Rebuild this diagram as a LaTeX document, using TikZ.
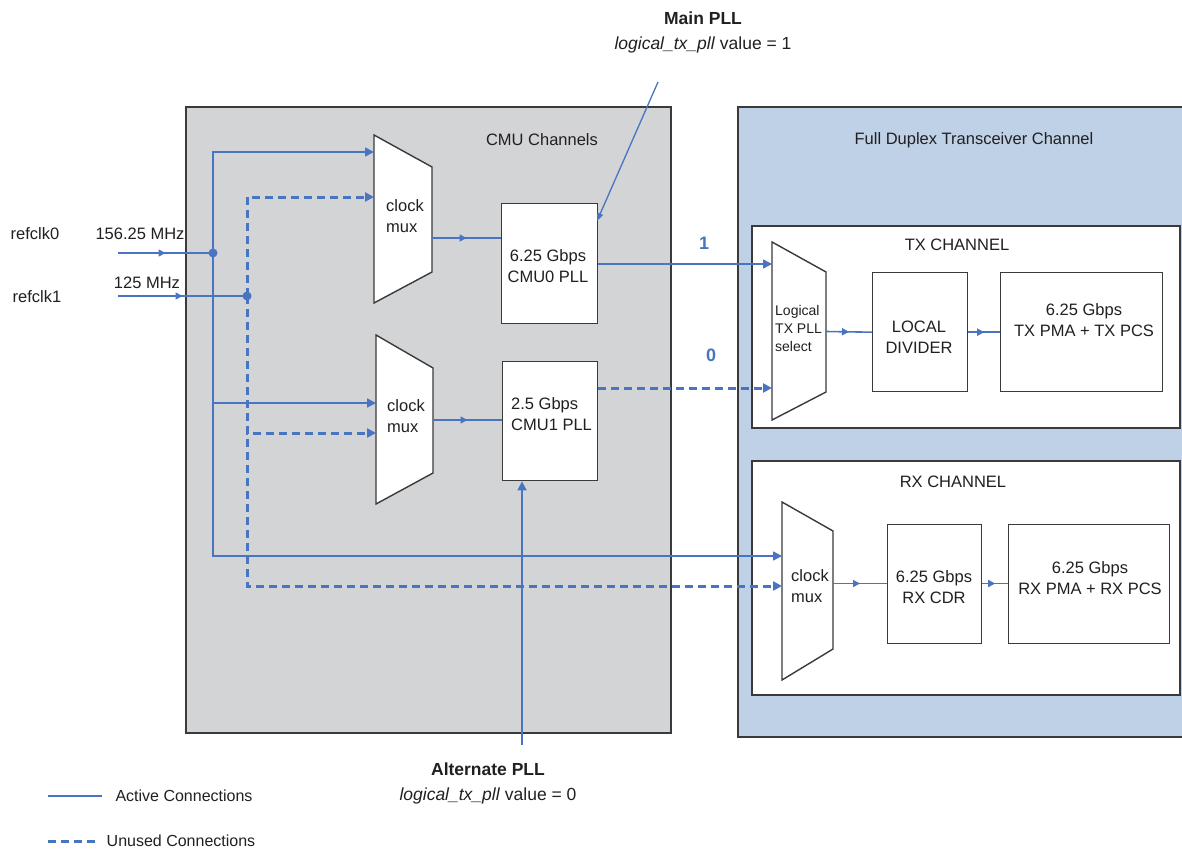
\documentclass[tikz,border=0pt]{standalone}
\usepackage{fontspec}
\setmainfont{Liberation Sans}
\usetikzlibrary{arrows.meta,decorations.markings,calc}
\definecolor{cmugray}{HTML}{D3D4D6}
\definecolor{fdblue}{HTML}{BFD1E6}
\definecolor{wire}{HTML}{4874C2}
\definecolor{txt}{HTML}{231F20}
\definecolor{edge}{HTML}{3A3A3A}
\begin{document}
\begin{tikzpicture}[x=1pt,y=-1pt,
  font=\fontsize{16.5}{21}\selectfont, text=txt,
  region/.style={draw=edge, line width=1.4pt},
  box/.style={draw=edge, line width=1.4pt, fill=white, inner sep=0pt, anchor=north west},
  muxshape/.style={draw=edge, line width=1.4pt, fill=white, line join=miter},
  wire/.style={draw=wire, line width=1.6pt},
  unused/.style={draw=wire, line width=3pt, dash pattern=on 8pt off 5pt},
  tip/.style={-{Triangle[length=9pt,width=9pt]}},
  midarrow/.style={postaction={decorate}, decoration={markings,
     mark=at position 0.5 with {\arrow{Triangle[length=7pt,width=7pt]}}}},
  lbl/.style={inner sep=0pt, align=center},
  lbll/.style={inner sep=0pt, align=left, anchor=west},
  note/.style={inner sep=0pt, align=center, font=\fontsize{17.5}{25}\selectfont},
]
\useasboundingbox (0,0) rectangle (1182,848);

% regions
\draw[region, fill=cmugray] (186,107) rectangle (671,733);
\draw[region, fill=fdblue] (738,107) rectangle (1186,737);
\node[lbl] (cmulbl) at (542,140) {CMU Channels};
\node[lbl] (fdlbl) at (974,140) {Full Duplex Transceiver Channel};

\draw[box] (752,226) rectangle (1180,428);
\draw[box] (752,461) rectangle (1180,695);
\node[lbl] (txlbl) at (957,245) {TX CHANNEL};
\node[lbl] (rxlbl) at (953,482) {RX CHANNEL};

% muxes
\draw[muxshape] (374,135) -- (432,167) -- (432,272) -- (374,303) -- cycle;
\node[lbll] (mux1) at (386,216) {clock\\mux};
\draw[muxshape] (376,335) -- (433,368) -- (433,473) -- (376,504) -- cycle;
\node[lbll] (mux2) at (387,416) {clock\\mux};
\draw[muxshape] (772,242) -- (826,272) -- (826,392) -- (772,420) -- cycle;
\node[lbll, font=\fontsize{14}{18}\selectfont] (txmux) at (775,328) {Logical\\TX PLL\\select};
\draw[muxshape] (782,502) -- (833,531) -- (833,649) -- (782,680) -- cycle;
\node[lbll] (rxmux) at (791,586) {clock\\mux};

% boxes
\node[box, minimum width=96, minimum height=120] (cmu0) at (501,203) {};
\node[lbl] (cmu0t) at (548,266) {6.25 Gbps\\CMU0 PLL};
\node[box, minimum width=95, minimum height=119] (cmu1) at (502,361) {};
\node[lbll] (cmu1t) at (511,414) {2.5 Gbps\\CMU1 PLL};
\node[box, minimum width=95, minimum height=119] (div) at (872,272) {};
\node[lbl] (divt) at (919,337) {LOCAL\\DIVIDER};
\node[box, minimum width=162, minimum height=119] (txpma) at (1000,272) {};
\node[lbl] (txpmat) at (1084,320) {6.25 Gbps\\TX PMA + TX PCS};
\node[box, minimum width=94, minimum height=119] (cdr) at (887,524) {};
\node[lbl] (cdrt) at (934,587) {6.25 Gbps\\RX CDR};
\node[box, minimum width=161, minimum height=119] (rxpma) at (1008,524) {};
\node[lbl] (rxpmat) at (1090,578) {6.25 Gbps\\RX PMA + RX PCS};

% coordinates
\coordinate (r0) at (118,253);
\coordinate (d0) at (213,253);
\coordinate (r1) at (118,296);
\coordinate (d1) at (247,296);
\coordinate (m1a) at (374,152);
\coordinate (m1b) at (374,197);
\coordinate (m2a) at (376,403);
\coordinate (m2b) at (376,433);
\coordinate (rxa) at (782,556);
\coordinate (rxb) at (782,586);
\coordinate (m1o) at (432,238);
\coordinate (m2o) at (433,420);
\coordinate (txa) at (772,264);
\coordinate (txb) at (772,388);
\coordinate (txo) at (826,331.5);
\coordinate (rxo) at (833,583.5);
\coordinate (mainsrc) at (658,82);
\coordinate (mainend) at (597,221);
\coordinate (altsrc) at (522,745);

% refclk inputs
\node[lbl] (rc0) at (35,234) {refclk0};
\node[lbl] (rc1) at (37,297) {refclk1};
\node[lbl] (f0) at (140,234) {156.25 MHz};
\node[lbl] (f1) at (147,283) {125 MHz};
\draw[wire, midarrow] (r0) -- (d0);
\draw[wire, midarrow] (r1) -- (d1);

% active bus
\draw[wire, tip] (d0) |- (m1a);
\draw[wire, tip] (d0) |- (m2a);
\draw[wire, tip] (d0) |- (rxa);
% unused bus
\draw[unused, tip] (d1) |- (m1b);
\draw[unused, tip] (d1) |- (m2b);
\draw[unused, tip] (d1) |- (rxb);
\fill[fill=wire] (d0) circle[radius=4.5pt];
\fill[fill=wire] (d1) circle[radius=4.5pt];

% mux to PLLs
\draw[wire, midarrow] (m1o) -- (m1o -| cmu0.west);
\draw[wire, midarrow] (m2o) -- (m2o -| cmu1.west);
% PLLs to TX select
\draw[wire, tip] (cmu0.east |- txa) -- (txa);
\draw[unused, tip] (cmu1.east |- txb) -- (txb);
\node[lbl, text=wire, font=\fontsize{18}{20}\selectfont\bfseries] (one) at (704,243) {1};
\node[lbl, text=wire, font=\fontsize{18}{20}\selectfont\bfseries] (zero) at (711,355) {0};

% TX / RX chains
\draw[wire, midarrow] (txo) -- (div.west);
\draw[wire, midarrow] (div.east) -- (txpma.west);
\draw[wire, midarrow] (rxo) -- (rxo -| cdr.west);
\draw[wire, midarrow] (cdr.east |- rxo) -- (rxo -| rxpma.west);

% annotations
\node[note] (mainpll) at (703,32) {\textbf{Main PLL}\\\textit{logical\_tx\_pll} value = 1};
\draw[draw=wire, line width=1.3pt, -{Triangle[length=8pt,width=6pt]}] (mainsrc) -- (mainend);
\node[note] (altpll) at (488,783) {\textbf{Alternate PLL}\\\textit{logical\_tx\_pll} value = 0};
\draw[wire, tip] (altsrc) -- (cmu1.south -| altsrc);

% legend
\coordinate (la1) at (48,796);
\coordinate (la2) at (102,796);
\coordinate (lu1) at (48,841);
\coordinate (lu2) at (98,841);
\draw[wire] (la1) -- (la2);
\draw[unused] (lu1) -- (lu2);
\node[lbl, font=\fontsize{16}{18}\selectfont] (legA) at (184,796) {Active Connections};
\node[lbl, font=\fontsize{16}{18}\selectfont] (legU) at (181,841) {Unused Connections};
\end{tikzpicture}
\end{document}
